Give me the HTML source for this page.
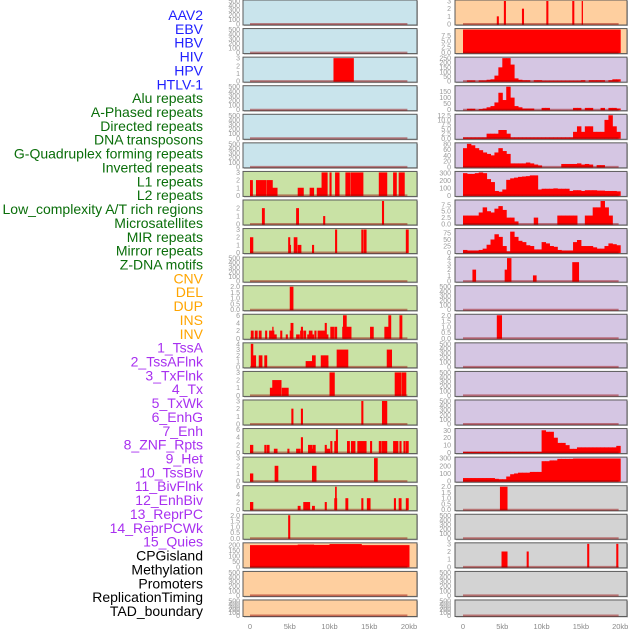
<!DOCTYPE html>
<html><head><meta charset="utf-8"><style>
html,body{margin:0;padding:0;background:#fff}
svg{display:block;font-family:"Liberation Sans",sans-serif}
</style></head><body>
<svg id="chart" width="630" height="630" viewBox="0 0 630 630" xmlns="http://www.w3.org/2000/svg"></svg>
<script>
// ---- data ----
const featureLabels = ["AAV2","EBV","HBV","HIV","HPV","HTLV-1","Alu repeats","A-Phased repeats","Directed repeats","DNA transposons","G-Quadruplex forming repeats","Inverted repeats","L1 repeats","L2 repeats","Low_complexity A/T rich regions","Microsatellites","MIR repeats","Mirror repeats","Z-DNA motifs","CNV","DEL","DUP","INS","INV","1_TssA","2_TssAFlnk","3_TxFlnk","4_Tx","5_TxWk","6_EnhG","7_Enh","8_ZNF_Rpts","9_Het","10_TssBiv","11_BivFlnk","12_EnhBiv","13_ReprPC","14_ReprPCWk","15_Quies","CPGisland","Methylation","Promoters","ReplicationTiming","TAD_boundary"];
const xTickValues = [0,5,10,15,20];
const xTickLabels = ["0","5kb","10kb","15kb","20kb"];
const emptyTicks = [0,100,200,300,400,500];

const hbvBars = [[10.5,13,3]];
const l1Bars = [[0,0.3,2],[0.75,2,2],[2.1,2.8,2],[2.8,3.4,1],[6,6.7,1],[7.5,8,1],[8.4,9,1],[9,9.7,3],[10,10.2,3],[10.7,11.2,3],[12,12.6,3],[12.7,14.2,3],[16.2,17.2,3],[18,18.4,3],[18.7,19.4,3]];
const l2Bars = [[1.5,1.8,2],[5.8,6.1,2],[9.2,9.4,1],[16.6,16.8,2.9]];
const lowBars = [[0,0.35,2],[4.8,5,2],[5,5.1,1],[5.5,5.9,2],[6,6.4,1],[7.8,8,1],[10.7,10.9,3],[14,14.2,3],[14.3,14.6,3],[19.6,19.9,3]];
const miroBars = [[5,5.4,2]];
const mirBars = [[0.1,0.4,2],[0.6,0.9,2],[1.1,1.4,2],[1.9,2.1,2],[2.4,3.0,2],[2.8,2.9,3],[3.0,3.3,1],[3.8,4.0,2],[4.5,4.7,1],[5.0,5.1,2],[5.1,5.4,4],[5.8,6.2,1],[6.3,6.6,2],[6.4,6.6,3],[6.7,7.0,2],[7.2,7.4,1],[7.4,7.8,2],[7.8,8.0,1],[8.1,8.3,2],[8.5,9.4,2],[9.4,9.6,4],[9.6,9.8,1],[10.1,10.5,3],[10.6,10.9,3],[11.6,12.2,3],[11.7,12.1,6],[12.2,12.7,3],[15.1,15.5,3],[16.9,17.4,3],[17.4,17.7,6],[18.8,19.1,6]];
const mirrorBars = [[0.1,0.35,4],[0.35,0.7,2],[1.1,1.5,2],[1.8,2.1,2],[7,7.8,1],[7.8,8.2,2],[8.9,9.4,2],[9.4,9.8,2],[9.6,9.8,1],[10.9,12.3,3],[17.2,17.8,3]];
const zdnaBars = [[2.5,2.8,1],[2.8,3.9,2],[4,4.8,1],[10,10.6,3],[18.2,19,3],[19.1,19.6,3]];
const cnvBars = [[5.2,5.4,2],[6.4,6.6,2],[14,14.2,3],[16.6,17.2,3]];
const delBars = [[0,0.35,2],[1.8,2.0,2],[2.1,2.4,2],[3.0,3.4,1],[4.7,4.9,1],[5.8,6.3,1],[6.4,6.6,4],[7.3,7.8,2],[7.8,7.9,1],[7.9,8.2,2],[9.4,9.6,2],[9.6,10,1],[10.1,10.3,3],[10.6,10.9,3],[10.8,11.0,6],[12.2,12.5,3],[12.7,13.2,3],[13.5,14.6,3],[15.1,15.3,3],[16.2,16.5,3],[16.6,17.2,3],[18.0,18.6,3],[18.8,19.0,3],[19.3,19.5,3],[19.6,19.9,3]];
const dupBars = [[0,0.35,1],[3.1,3.5,2],[7.8,8.3,2],[15.6,16,3]];
const leftRow17Bars = [[0,0.35,2],[6,6.3,1],[6.7,7.5,2],[7.8,8.1,1],[9.4,9.6,2],[10.6,10.9,3],[10.7,10.85,6],[12,12.3,3],[14,14.2,3],[14.7,15.1,3],[18.1,18.3,3],[18.7,19,3],[19.6,19.9,3]];
const leftRow18Bars = [[4.8,5,2]];
const leftRow19Bars = [[0,6,200],[6,8,205],[8,10,202],[10,14,210],[14,20,200]];
const insBars = [[4.3,4.5,1],[5.2,5.4,3],[7.5,7.7,2],[10.6,10.8,3],[13.9,14.1,3],[15.1,15.2,3]];
const invBars = [[0,20,10]];
const tssABins = [0,8,8,0,8,8,15,20,60,150,250,250,180,30,15,10,10,0,10,10,5,5,5,5,5,5,5,5,5,5,10,0,10,10,10,10,0,10,20,20];
const tssAFlnkBins = [0,8,8,0,5,10,20,30,60,140,80,190,100,30,20,10,10,10,0,0,15,15,0,0,0,0,0,0,15,15,0,15,15,0,0,15,0,15,15,10];
const txFlnkBins = [0.5,0.5,0.5,0.5,0.5,0.5,2.5,2.5,2.5,4.5,4.5,2.5,0.5,0.5,0.5,0.5,0.5,0.5,0.5,0.5,0.5,0.5,0.5,0.5,0.5,0.5,0.5,0.5,3.5,6.5,3.5,6.5,6.5,3.5,3.5,3.5,10,12.5,6.5,3.5];
const txBins = [65,80,75,65,58,50,45,40,50,65,55,45,12,12,12,12,15,12,8,5,0,0,0,0,0,10,10,10,10,12,8,10,8,0,6,6,0,0,0,0];
const txWkBins = [300,290,290,300,310,300,220,180,60,50,80,210,230,240,250,255,260,270,270,80,90,90,90,95,90,90,90,60,70,70,60,70,70,70,65,65,60,60,60,55];
const enhGBins = [3.3,3.3,3.3,3.3,4.5,6.5,5,4.5,6,7,5.5,2.5,2.5,1,0,0,0,0,2.5,0,0,0,0,0,3.3,3.3,3.3,3.3,3.3,0,0,3.3,3.3,6.5,6.5,9,6.5,3.3,0,0];
const enhBins = [10,8,8,8,10,15,30,50,70,60,25,5,80,60,45,40,28,25,12,12,40,35,25,22,10,8,8,8,40,48,25,25,25,20,15,15,25,35,32,28];
const znfBars = [[1.2,1.6,2],[5.3,5.7,2],[5.6,6.1,4],[8.9,9.3,1],[13.9,14.7,3.3]];
const tssBivBars = [[4.3,4.9,2]];
const reprPCBins = [1,1,1,1,1,1,1,1,1,1,1,1,1,1,1,1,1,1,1,1,30,28,28,20,13,13,10,5,5,7,7,7,7,7,7,7,7,7,7,9];
const quiesBins = [40,40,40,40,40,40,40,40,30,25,25,60,90,100,110,110,110,120,120,120,260,260,270,270,290,290,290,290,295,295,295,295,295,295,295,295,295,295,295,295];
const cpgBars = [[4.7,5.6,2]];
const replBars = [[4.9,5.6,2],[8.1,8.3,2],[15.8,16,3],[19.5,19.7,3]];

// ---- layout ----
const BG = {blue:"#c9e4ec",green:"#c9e2a5",orange:"#fecf9f",purple:"#d5c6e3",gray:"#d3d3d3"};
const panels = [
 {c:0,r:0,bg:"blue",name:"aav2"},{c:0,r:1,bg:"blue",name:"ebv"},
 {c:0,r:2,bg:"blue",name:"hbv",bars:hbvBars,ticks:[0,1,2,3],lab:["0","1","2","3"],ymax:3},
 {c:0,r:3,bg:"blue",name:"hiv"},{c:0,r:4,bg:"blue",name:"hpv"},{c:0,r:5,bg:"blue",name:"htlv"},
 {c:0,r:6,bg:"green",name:"alu",bars:l1Bars,ticks:[0,1,2,3],lab:["0","1","2","3"],ymax:3},
 {c:0,r:7,bg:"green",name:"a-phased",bars:l2Bars,ticks:[0,1,2],lab:["0","1","2"],ymax:2.9},
 {c:0,r:8,bg:"green",name:"directed",bars:lowBars,ticks:[0,1,2,3],lab:["0","1","2","3"],ymax:3},
 {c:0,r:9,bg:"green",name:"dna-transposons"},
 {c:0,r:10,bg:"green",name:"g-quadruplex",bars:miroBars,ticks:[0,0.5,1,1.5,2],lab:["0.0","0.5","1.0","1.5","2.0"],ymax:2},
 {c:0,r:11,bg:"green",name:"inverted",bars:mirBars,ticks:[0,2,4,6],lab:["0","2","4","6"],ymax:6},
 {c:0,r:12,bg:"green",name:"l1",bars:mirrorBars,ticks:[0,1,2,3,4],lab:["0","1","2","3","4"],ymax:4},
 {c:0,r:13,bg:"green",name:"l2",bars:zdnaBars,ticks:[0,1,2,3],lab:["0","1","2","3"],ymax:3},
 {c:0,r:14,bg:"green",name:"low-complexity",bars:cnvBars,ticks:[0,1,2,3],lab:["0","1","2","3"],ymax:3},
 {c:0,r:15,bg:"green",name:"microsatellites",bars:delBars,ticks:[0,2,4,6],lab:["0","2","4","6"],ymax:6},
 {c:0,r:16,bg:"green",name:"mir",bars:dupBars,ticks:[0,1,2,3],lab:["0","1","2","3"],ymax:3},
 {c:0,r:17,bg:"green",name:"mirror",bars:leftRow17Bars,ticks:[0,2,4,6],lab:["0","2","4","6"],ymax:6},
 {c:0,r:18,bg:"green",name:"z-dna",bars:leftRow18Bars,ticks:[0,0.5,1,1.5,2],lab:["0.0","0.5","1.0","1.5","2.0"],ymax:2},
 {c:0,r:19,bg:"orange",name:"cnv",bars:leftRow19Bars,ticks:[0,50,100,150,200],lab:["0","50","100","150","200"],ymax:212},
 {c:0,r:20,bg:"orange",name:"del"},{c:0,r:21,bg:"orange",name:"dup"},
 {c:1,r:0,bg:"orange",name:"ins",bars:insBars,ticks:[0,1,2,3],lab:["0","1","2","3"],ymax:3},
 {c:1,r:1,bg:"orange",name:"inv",bars:invBars,ticks:[0,2.5,5,7.5],lab:["0.0","2.5","5.0","7.5"],ymax:10},
 {c:1,r:2,bg:"purple",name:"tssa",bins:tssABins,ticks:[0,50,100,150,200,250],lab:["0","50","100","150","200","250"],ymax:250},
 {c:1,r:3,bg:"purple",name:"tssaflnk",bins:tssAFlnkBins,ticks:[0,50,100,150],lab:["0","50","100","150"],ymax:190},
 {c:1,r:4,bg:"purple",name:"txflnk",bins:txFlnkBins,ticks:[0,2.5,5,7.5,10,12.5],lab:["0.0","2.5","5.0","7.5","10.0","12.5"],ymax:12.5},
 {c:1,r:5,bg:"purple",name:"tx",bins:txBins,ticks:[0,20,40,60,80],lab:["0","20","40","60","80"],ymax:80},
 {c:1,r:6,bg:"purple",name:"txwk",bins:txWkBins,ticks:[0,100,200,300],lab:["0","100","200","300"],ymax:310},
 {c:1,r:7,bg:"purple",name:"enhg",bins:enhGBins,ticks:[0,2.5,5,7.5],lab:["0.0","2.5","5.0","7.5"],ymax:9},
 {c:1,r:8,bg:"purple",name:"enh",bins:enhBins,ticks:[0,25,50,75],lab:["0","25","50","75"],ymax:88},
 {c:1,r:9,bg:"purple",name:"znf-rpts",bars:znfBars,ticks:[0,1,2,3,4],lab:["0","1","2","3","4"],ymax:4},
 {c:1,r:10,bg:"purple",name:"het"},
 {c:1,r:11,bg:"purple",name:"tssbiv",bars:tssBivBars,ticks:[0,0.5,1,1.5,2],lab:["0.0","0.5","1.0","1.5","2.0"],ymax:2},
 {c:1,r:12,bg:"purple",name:"bivflnk"},{c:1,r:13,bg:"purple",name:"enhbiv"},{c:1,r:14,bg:"purple",name:"reprpc-empty"},
 {c:1,r:15,bg:"purple",name:"reprpcwk",bins:reprPCBins,ticks:[0,10,20,30],lab:["0","10","20","30"],ymax:31},
 {c:1,r:16,bg:"purple",name:"quies",bins:quiesBins,ticks:[0,100,200,300],lab:["0","100","200","300"],ymax:300},
 {c:1,r:17,bg:"gray",name:"cpgisland",bars:cpgBars,ticks:[0,0.5,1,1.5,2],lab:["0.0","0.5","1.0","1.5","2.0"],ymax:2},
 {c:1,r:18,bg:"gray",name:"methylation"},
 {c:1,r:19,bg:"gray",name:"promoters",bars:replBars,ticks:[0,1,2,3],lab:["0","1","2","3"],ymax:3},
 {c:1,r:20,bg:"gray",name:"replication-timing"},{c:1,r:21,bg:"gray",name:"tad-boundary"}
];

const NS="http://www.w3.org/2000/svg";
const svg=document.getElementById('chart');
function mk(tag,attrs,parent){const e=document.createElementNS(NS,tag);for(const k in attrs)e.setAttribute(k,attrs[k]);(parent||svg).appendChild(e);return e;}
const COL=[{x:243,w:174,x0:250,k:7.95,tx:240},{x:455,w:172,x0:463,k:7.86,tx:451}];
function panelTop(r){return r*28.57;}
function panelH(r){return r===21?16.5:25;}
function xScale(c,kb){return COL[c].x0+kb*COL[c].k;}
function yScale(p,v){const t=panelTop(p.r),h=panelH(p.r);return t+h-1-(v/p.ymax)*(h-2);}

const labelColor=i=>i<6?"#2020ff":i<19?"#0a6e0a":i<24?"#ffa500":i<39?"#a830f0":"#000";
featureLabels.forEach((s,i)=>{
  const t=mk('text',{x:203,y:15+i*13.86+5,'text-anchor':'end','font-size':'14',fill:labelColor(i)});
  
  
  t.textContent=s;
});

panels.forEach(p=>{
  const C=COL[p.c],top=panelTop(p.r),h=panelH(p.r);
  const g=mk('g',{});
  
  
  mk('rect',{x:C.x+1,y:top+1,width:C.w,height:h,fill:'#bbb'},g);
  const bg=mk('rect',{x:C.x,y:top,width:C.w,height:h,fill:BG[p.bg],stroke:'#5a5a5a','stroke-width':1},g);
  
  
  if(!p.ymax){p.ymax=500;p.ticks=emptyTicks;p.lab=emptyTicks.map(String);}
  p.ticks.forEach((v,i)=>{
    const t=mk('text',{x:C.tx,y:yScale(p,v)+2.5,'text-anchor':'end','font-size':'7',fill:'#999'},g);
    
    
    t.textContent=p.lab[i];
  });
  const y0=yScale(p,0);
  const drawBar=(a,b,v)=>{
    if(v<=0)return;
    const y=yScale(p,v);
    const r=mk('rect',{x:xScale(p.c,a),y:y,width:Math.max(1.2,xScale(p.c,b)-xScale(p.c,a)+0.5),height:y0-y+0.5,fill:'#ff0000'},g);
    
    
  };
  if(p.bars)p.bars.forEach(b=>drawBar(b[0],b[1],b[2]));
  if(p.bins)p.bins.forEach((v,i)=>drawBar(i*0.5,(i+1)*0.5,v));
  const bl=mk('line',{x1:xScale(p.c,0),x2:xScale(p.c,19.8),y1:y0,y2:y0,stroke:'rgba(150,0,0,0.45)','stroke-width':2},g);
  
  
});

[0,1].forEach(c=>{
  xTickValues.forEach((v,i)=>{
    const t=mk('text',{x:xScale(c,v),y:629,'text-anchor':'middle','font-size':'7.5',fill:'#888'});
    
    
    t.textContent=xTickLabels[i];
  });
});
</script>
</body></html>
